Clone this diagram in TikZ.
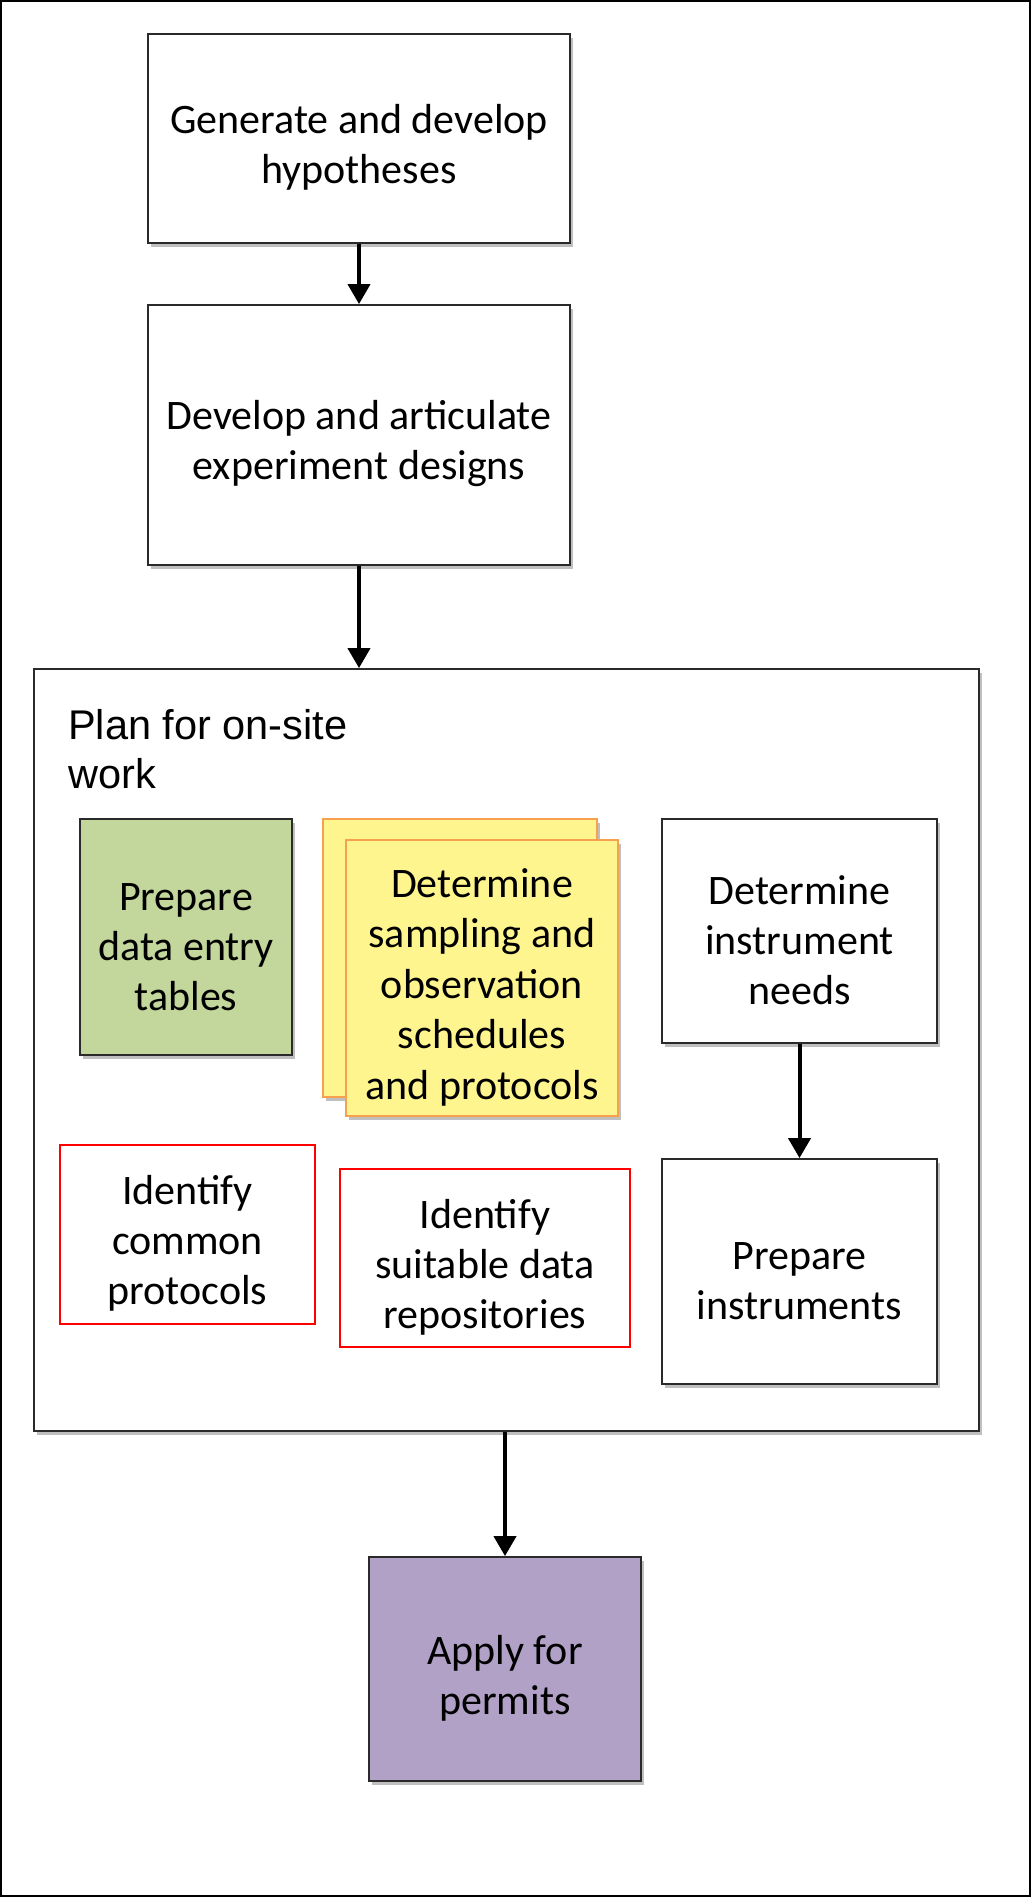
\documentclass[tikz,border=0pt]{standalone}
\usepackage{fontspec}
\setmainfont{Carlito}
\newfontfamily\arialf{Liberation Sans}
\usetikzlibrary{arrows.meta,shadows}
\definecolor{greenfill}{HTML}{C3D69B}
\definecolor{yellowfill}{HTML}{FFF58F}
\definecolor{orangeline}{HTML}{F7A04E}
\definecolor{purplefill}{HTML}{B2A1C7}
\definecolor{boxline}{HTML}{2A2A2A}
\newcommand\lowstrut{\rule{0pt}{47pt}}
\begin{document}
\begin{tikzpicture}[x=1pt,y=-1pt,
  shd/.style={drop shadow={shadow xshift=3pt,shadow yshift=-4pt,opacity=0.25,fill=black}},
  box/.style={draw=boxline,line width=1.8pt,fill=white,shd,align=center,inner sep=0pt,
     font=\fontsize{42}{50}\selectfont},
  redbox/.style={draw=red,line width=1.8pt,fill=white,align=center,inner sep=0pt,
     font=\fontsize{42}{50}\selectfont},
  arr/.style={line width=4pt,-{Triangle[width=22pt,length=20pt]}}]
\useasboundingbox (0,0) rectangle (1031,1897);
\draw[line width=2pt] (1,1) rectangle (1030,1896);

\node[box,minimum width=422pt,minimum height=209pt] (b1) at (359,138.5)
  {\lowstrut Generate and develop\\hypotheses};
\node[box,minimum width=422pt,minimum height=260pt] (b2) at (359,435)
  {\lowstrut Develop and articulate\\experiment designs};

\node[draw=boxline,line width=1.8pt,fill=white,shd,minimum width=945pt,minimum height=762pt] (cont) at (506.5,1050) {};
\node[anchor=base west,align=left,inner sep=0pt,font=\arialf\fontsize{41.5}{49}\selectfont] (title) at (68,788)
  {Plan for on-site\\work};

\node[box,fill=greenfill,minimum width=212pt,minimum height=236pt] (green) at (186,937)
  {\lowstrut Prepare\\data entry\\tables};
\node[draw=orangeline,line width=1.8pt,fill=yellowfill,shd,minimum width=274pt,minimum height=278pt] (yback) at (460,958) {};
\node[draw=orangeline,line width=1.8pt,fill=yellowfill,shd,align=center,inner sep=0pt,
  minimum width=272pt,minimum height=276pt,font=\fontsize{42}{50.5}\selectfont] (yfront) at (482,978)
  {\lowstrut Determine\\sampling and\\observation\\schedules\\and protocols};
\node[box,minimum width=275pt,minimum height=224pt] (need) at (799.5,931)
  {\lowstrut Determine\\instrument\\needs};
\node[box,minimum width=275pt,minimum height=225pt] (prep) at (799.5,1271.5)
  {\lowstrut Prepare\\instruments};
\node[redbox,minimum width=255pt,minimum height=179pt] (common) at (187.5,1234.5)
  {\lowstrut Identify\\common\\protocols};
\node[redbox,minimum width=290pt,minimum height=178pt] (repo) at (485,1258)
  {\lowstrut Identify\\suitable data\\repositories};

\node[box,fill=purplefill,minimum width=272pt,minimum height=224pt] (apply) at (505,1669)
  {\lowstrut Apply for\\permits};

\draw[arr] (b1.south) -- (b2.north);
\draw[arr] (b2.south) -- (b2.south |- cont.north);
\draw[arr] (need.south) -- (prep.north);
\draw[arr] (apply.north |- cont.south) -- (apply.north);
\end{tikzpicture}
\end{document}
